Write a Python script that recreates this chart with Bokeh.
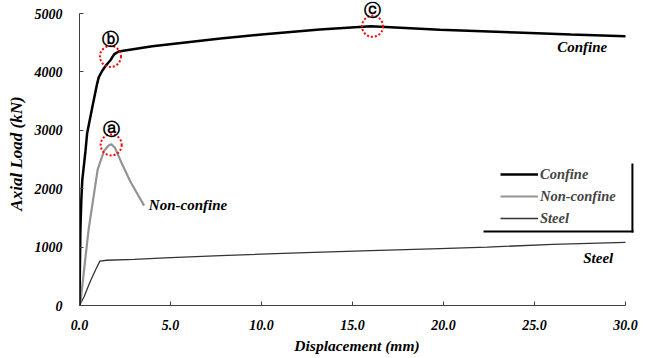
from bokeh.plotting import figure
from bokeh.models import (FixedTicker, PrintfTickFormatter, Legend, LegendItem,
                          Label, Range1d)
from bokeh.embed import file_html
from bokeh.resources import INLINE

# ---------------- data ----------------
confine_x = [0, 0.02, 0.05, 0.10, 0.15, 0.33, 0.42, 0.70, 0.97, 1.06, 1.25, 1.45,
             1.70, 1.90, 2.15, 4.0, 7.75, 10.0, 13.2, 16.0, 19.8, 24.0, 27.0, 30.0]
confine_y = [0, 600, 1300, 1800, 2140, 2650, 2950, 3390, 3800, 3910, 4020, 4110,
             4200, 4300, 4350, 4440, 4570, 4640, 4725, 4780, 4720, 4675, 4640, 4610]

nonconfine_x = [0, 0.05, 0.50, 1.00, 1.35, 1.60, 1.75, 1.95, 2.30, 2.80, 3.20, 3.55]
nonconfine_y = [0, 50, 1300, 2330, 2650, 2740, 2760, 2700, 2450, 2120, 1900, 1710]

steel_x = [0, 0.25, 0.60, 0.90, 1.12, 1.50, 3.0, 4.7, 7.75, 12.0, 16.0, 19.8, 22.4, 26.0, 30.0]
steel_y = [0, 150, 420, 620, 760, 775, 790, 815, 855, 900, 940, 975, 1000, 1045, 1080]

series_names = ["Confine", "Non-confine", "Steel"]
x_ticks = [0, 5, 10, 15, 20, 25, 30]
y_ticks = [0, 1000, 2000, 3000, 4000, 5000]

# marked points (a), (b), (c)
mark_letters = ["\u24d0", "\u24d1", "\u24d2"]
mark_x = [1.74, 1.70, 16.1]
mark_y = [2750, 4264, 4780]

FONT = "Liberation Serif"

# frame slightly larger than the axes so that decorations outside 30 / 5000 are not clipped
X_END = 555 / 18.2
Y_END = 304 / 0.0584

p = figure(width=649, height=358, output_backend="svg", toolbar_location=None,
           x_range=Range1d(0, X_END), y_range=Range1d(0, Y_END),
           min_border_left=79, min_border_right=15, min_border_top=1,
           min_border_bottom=53)
p.outline_line_color = None
p.xgrid.grid_line_color = None
p.ygrid.grid_line_color = None
p.background_fill_color = "white"

for ax in (p.xaxis[0], p.yaxis[0]):
    ax.axis_line_color = "#404040"
    ax.axis_line_width = 1
    ax.major_tick_in = 4
    ax.major_tick_out = 0
    ax.major_tick_line_color = "#404040"
    ax.minor_tick_line_color = None
    ax.major_label_text_font = FONT
    ax.major_label_text_font_style = "bold italic"
    ax.major_label_text_font_size = "14px"
    ax.major_label_text_color = "black"
    ax.axis_label_text_font = FONT
    ax.axis_label_text_font_style = "bold italic"
    ax.axis_label_text_color = "black"

p.xaxis.bounds = (x_ticks[0], x_ticks[-1])
p.yaxis.bounds = (y_ticks[0], y_ticks[-1])
p.xaxis.ticker = FixedTicker(ticks=x_ticks)
p.xaxis.formatter = PrintfTickFormatter(format="%.1f")
p.yaxis.ticker = FixedTicker(ticks=y_ticks)
p.xaxis.axis_label = "Displacement (mm)"
p.yaxis.axis_label = "Axial Load (kN)"
p.xaxis.axis_label_text_font_size = "15.5px"
p.yaxis.axis_label_text_font_size = "17px"
p.xaxis.major_label_standoff = 14
p.yaxis.major_label_standoff = 17
p.xaxis.axis_label_standoff = 4
p.yaxis.axis_label_standoff = 6

r_steel = p.line(steel_x, steel_y, line_color="#333333", line_width=1.3)
r_non = p.line(nonconfine_x, nonconfine_y, line_color="#939393", line_width=2.2)
r_conf = p.line(confine_x, confine_y, line_color="black", line_width=2.5)

# red dotted circles around the marked points
p.scatter(mark_x, mark_y, marker="circle", size=21, fill_color=None,
          line_color="red", line_width=2, line_dash="2 2")

# circled letters above the marked points
letter_offsets = [16, 17, 16]
for t, mx, my, off in zip(mark_letters, mark_x, mark_y, letter_offsets):
    p.add_layout(Label(x=mx, y=my, text=t, y_offset=off, text_align="center",
                       text_baseline="middle", text_font="DejaVu Sans",
                       text_font_style="bold",
                       text_font_size="17px", text_color="black"))

# curve name labels
name_x = [26.25, 3.81, 27.68]
name_y = [4423, 1729, 805]
for t, nx, ny in zip(series_names, name_x, name_y):
    p.add_layout(Label(x=nx, y=ny, text=t, text_align="left", text_baseline="middle",
                       text_font=FONT, text_font_style="bold italic",
                       text_font_size="15px", text_color="black"))

legend = Legend(items=[LegendItem(label=series_names[0], renderers=[r_conf]),
                       LegendItem(label=series_names[1], renderers=[r_non]),
                       LegendItem(label=series_names[2], renderers=[r_steel])],
                location=(421, 77), padding=0, margin=0, spacing=2,
                glyph_width=38, glyph_height=20, label_height=20,
                label_standoff=2, border_line_color=None,
                background_fill_alpha=0,
                label_text_font=FONT, label_text_font_style="bold italic",
                label_text_font_size="14.5px")
p.add_layout(legend)

# legend frame: right and bottom edges only
p.segment(x0=[30.38, 22.2], y0=[2432, 1267], x1=[30.38, 30.44], y1=[1250, 1267],
          line_color="black", line_width=2)

open("out.html", "w").write(file_html(p, INLINE))
